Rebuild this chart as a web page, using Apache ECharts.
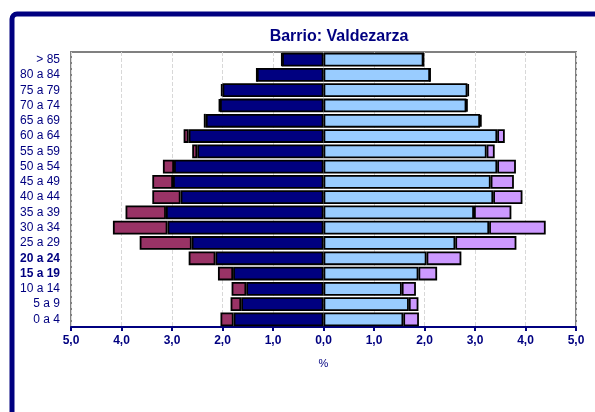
<!DOCTYPE html>
<html lang="es">
<head>
    <meta charset="UTF-8"/>
    <title>Barrio: Valdezarza</title>
    <script src="https://cdn.jsdelivr.net/npm/echarts@6/dist/echarts.min.js"></script>
</head>
<body style="margin:0">
<div id="main" style="width: 595px;height:412px;"></div>
<script type="text/javascript">
    // age groups, bottom to top
    var ageGroups = ['0 a 4', '5 a 9', '10 a 14', '15 a 19', '20 a 24', '25 a 29', '30 a 34', '35 a 39',
        '40 a 44', '45 a 49', '50 a 54', '55 a 59', '60 a 64', '65 a 69', '70 a 74', '75 a 79', '80 a 84', '> 85'];
    // % of population, men (drawn to the left)
    var menSpanish = [1.78, 1.63, 1.53, 1.79, 2.14, 2.61, 3.09, 3.12, 2.83, 2.98, 2.96, 2.50, 2.67, 2.33, 2.05, 2.00, 1.32, 0.82];
    var menForeign = [0.26, 0.21, 0.29, 0.30, 0.53, 1.03, 1.08, 0.80, 0.56, 0.41, 0.22, 0.10, 0.10, 0.04, 0.02, 0.03, 0.00, 0.01];
    // women (drawn to the right)
    var womenSpanish = [1.58, 1.69, 1.55, 1.88, 2.04, 2.61, 3.28, 2.98, 3.36, 3.31, 3.44, 3.23, 3.44, 3.10, 2.83, 2.85, 2.11, 1.98];
    var womenForeign = [0.31, 0.19, 0.28, 0.37, 0.69, 1.21, 1.12, 0.74, 0.58, 0.46, 0.37, 0.16, 0.15, 0.03, 0.02, 0.03, 0.00, 0.00];
    var boldGroups = ['15 a 19', '20 a 24'];

    var navy = '#000080';
    var myChart = echarts.init(document.getElementById('main'));

    function neg(arr) {
        return arr.map(function (v) { return -v; });
    }
    function barSeries(name, data, color) {
        return {
            name: name,
            type: 'bar',
            stack: 'pyramid',
            data: data,
            barCategoryGap: '10%',
            itemStyle: { color: color, borderColor: '#000', borderWidth: 1.8 },
            silent: true
        };
    }

    var option = {
        animation: false,
        textStyle: { fontFamily: 'Liberation Sans, Arial, sans-serif' },
        title: {
            text: 'Barrio: Valdezarza',
            left: 334,
            textAlign: 'center',
            top: 24,
            textStyle: { color: navy, fontSize: 16, fontWeight: 'bold' }
        },
        graphic: [{
            type: 'rect',
            shape: { x: 12, y: 14, width: 640, height: 460, r: 5 },
            style: { fill: 'none', stroke: navy, lineWidth: 5 },
            silent: true
        }],
        grid: {
            left: 71, right: 19, top: 52, bottom: 85,
            show: true, borderColor: '#808080', borderWidth: 2, backgroundColor: '#fff'
        },
        xAxis: {
            type: 'value',
            min: -5, max: 5, interval: 1,
            name: '%',
            nameLocation: 'middle',
            nameGap: 31,
            nameTextStyle: { color: navy, fontSize: 11 },
            axisLine: { show: true, onZero: false, lineStyle: { color: navy, width: 2 } },
            axisTick: { show: true, length: 4, lineStyle: { color: navy, width: 2 } },
            axisLabel: {
                color: navy, fontSize: 12, fontWeight: 'bold', margin: 8,
                formatter: function (v) { return Math.abs(v).toFixed(1).replace('.', ','); }
            },
            splitLine: { show: true, lineStyle: { color: '#d8d8d8', type: 'dashed', width: 1 } }
        },
        yAxis: {
            type: 'category',
            data: ageGroups,
            axisLine: { show: false },
            axisTick: { show: false },
            axisLabel: {
                interval: 0,
                fontSize: 12, margin: 11,
                color: navy,
                formatter: function (v) {
                    return boldGroups.indexOf(v) >= 0 ? '{b|' + v + '}' : v;
                },
                rich: { b: { fontWeight: 'bold', color: navy, fontSize: 12 } }
            }
        },
        series: [
            barSeries('Hombres españoles', neg(menSpanish), navy),
            barSeries('Hombres extranjeros', neg(menForeign), '#993366'),
            barSeries('Mujeres españolas', womenSpanish, '#99CCFF'),
            barSeries('Mujeres extranjeras', womenForeign, '#CC99FF')
        ]
    };

    myChart.setOption(option);
</script>
</body>
</html>
